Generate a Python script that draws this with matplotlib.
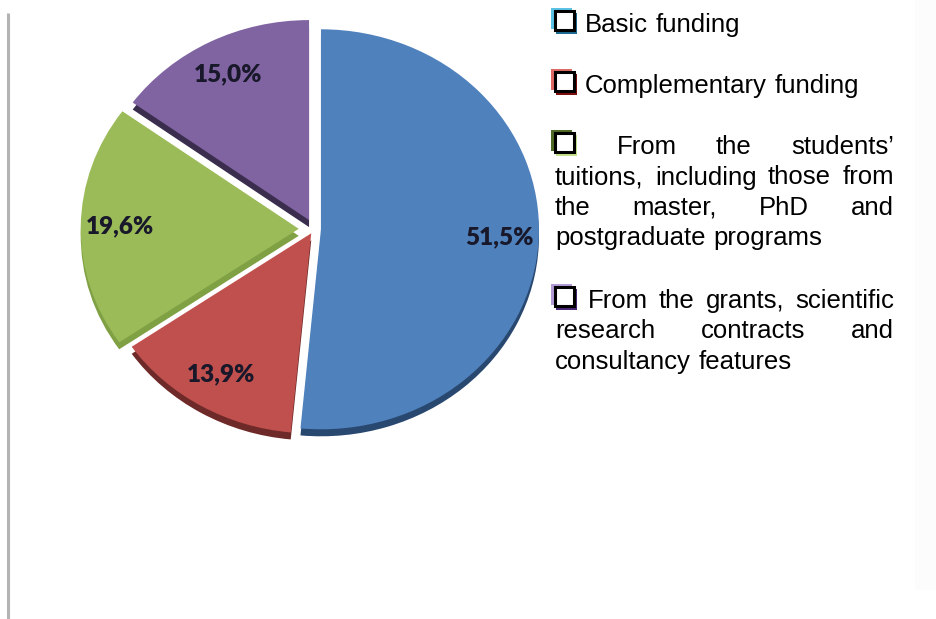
import matplotlib
matplotlib.use("Agg")
import matplotlib.pyplot as plt
from matplotlib.patches import Rectangle

# Funding shares (%), clockwise from 12 o'clock
sources = ["Basic funding", "Complementary funding", "Students' tuitions", "Grants and contracts"]
shares = [51.5, 13.9, 19.6, 15.0]
explode = [0.032, 0.025, 0.07, 0.05]

face_colors = ["#4f81bd", "#c0504d", "#9bbb59", "#8064a2"]
side_colors = ["#294870", "#6e2a28", "#80a044", "#3a2d4e"]

# legend text, one list of lines per entry (all but the last line are justified)
legend_entries = [
    ["Basic funding"],
    ["Complementary funding"],
    ["From the students\u2019",
     "tuitions, including those from",
     "the master, PhD and",
     "postgraduate programs"],
    ["From the grants, scientific",
     "research contracts and",
     "consultancy features"],
]
legend_baselines = [32, 93, 154, 308]
# (upper-left shade, lower-right shade) of each legend box
legend_shades = [("#5cc3e6", "#1d6a93"),
                 ("#de6a66", "#7f0d0d"),
                 ("#4f6a26", "#c4e28c"),
                 ("#b39bd6", "#4a2a78")]

W, H = 937, 619
fig = plt.figure(figsize=(W / 100, H / 100), dpi=100)

# pie axes: 1 unit = 218 px across, 200 px tall, centre at (314, 229)
cx, cy, rx, ry, lim = 314, 229, 218, 200, 1.15
ax = fig.add_axes([(cx - lim * rx) / W, 1 - (cy + lim * ry) / H,
                   2 * lim * rx / W, 2 * lim * ry / H])

# darker copy shifted down gives the slab edge
ax.pie(shares, explode=explode, colors=side_colors, startangle=90,
       counterclock=False, center=(0, -0.035),
       wedgeprops=dict(linewidth=0, zorder=1))
wedges, _, pct_texts = ax.pie(
    shares, explode=explode, colors=face_colors, startangle=90,
    counterclock=False, pctdistance=0.82,
    autopct=lambda p: f"{p:.1f}%".replace(".", ","),
    wedgeprops=dict(linewidth=0, zorder=2),
    textprops=dict(fontfamily="Lato", fontweight="heavy", fontsize=17.5,
                   color="#18182a", zorder=3))
ax.set_aspect("auto")
ax.set_xlim(-lim, lim)
ax.set_ylim(-lim, lim)
ax.axis("off")

# pixel-space overlay for the frame line and the legend
ov = fig.add_axes([0, 0, 1, 1], zorder=5)
ov.set_xlim(0, W)
ov.set_ylim(H, 0)
ov.axis("off")

ov.add_patch(Rectangle((915, 0), 22, 590, color="#fcfcfc", lw=0))
ov.plot([8.5, 8.5], [13, H], color="#b3b3b3", lw=2.2, solid_capstyle="butt")

renderer = fig.canvas.get_renderer()
legend_font = dict(fontfamily="Liberation Sans", fontsize=18.5, color="black",
                   va="baseline", ha="left")
space_w = 8
box_x, box_w = 554, 21
text_left, text_right = 555, 894
line_step = 30.5


def place_line(words, x0, x1, y, justify, lead):
    texts = [ov.text(0, y, w, **legend_font) for w in words]
    widths = [t.get_window_extent(renderer).width for t in texts]
    n_gaps = len(words) - 1 + (1 if lead else 0)
    gap = space_w
    if justify and n_gaps:
        gap = (x1 - x0 - sum(widths)) / n_gaps
    x = x0 + (gap if lead else 0)
    for t, w in zip(texts, widths):
        t.set_x(x)
        x += w + gap


for lines, base, (light, dark) in zip(legend_entries, legend_baselines, legend_shades):
    top = base - 22
    ov.add_patch(Rectangle((box_x - 2.5, top - 2.5), box_w, box_w, color=light, lw=0))
    ov.add_patch(Rectangle((box_x + 2.5, top + 2.5), box_w, box_w, color=dark, lw=0))
    ov.add_patch(Rectangle((box_x + 1, top + 1), box_w - 2, box_w - 2,
                           facecolor="white", edgecolor="black", lw=2.2))
    for i, line in enumerate(lines):
        y = base + i * line_step
        justify = i < len(lines) - 1
        if i == 0:
            place_line(line.split(), box_x + box_w + 2, text_right, y, justify, lead=True)
        else:
            place_line(line.split(), text_left, text_right, y, justify, lead=False)

fig.savefig("out.png", dpi=100, facecolor="white")
